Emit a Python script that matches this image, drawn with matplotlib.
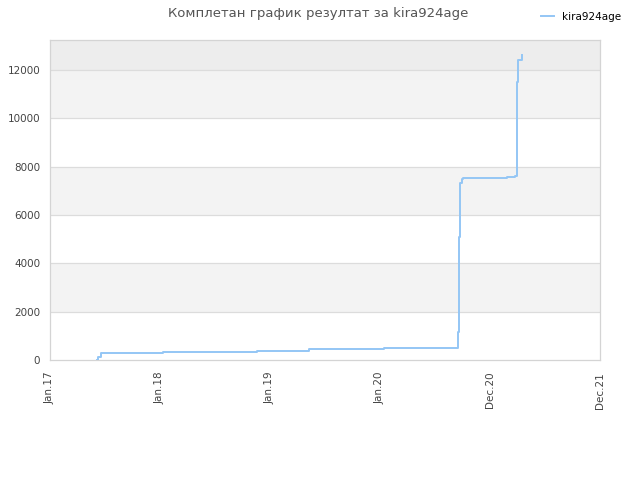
import numpy as np
import pandas as pd
import matplotlib
matplotlib.use("Agg")
import matplotlib.pyplot as plt

# score history
dates = ["2017-06-06", "2017-06-10", "2017-06-18", "2018-01-10", "2018-05-30",
         "2018-11-18", "2019-05-11", "2020-01-16", "2020-09-17", "2020-09-18",
         "2020-09-22", "2020-09-24", "2020-09-29", "2020-10-03", "2020-10-07",
         "2021-02-24", "2021-03-25", "2021-03-29", "2021-04-02", "2021-04-15"]
scores = [0, 120, 280, 340, 350,
          390, 470, 510, 1180, 5100,
          6350, 7340, 7480, 7520, 7520,
          7560, 7620, 11520, 12420, 12620]

tick_dates = ["2017-01-01", "2018-01-01", "2019-01-01", "2020-01-01",
              "2020-12-31", "2021-12-31"]
tick_labels = ["Jan.17", "Jan.18", "Jan.19", "Jan.20", "Dec.20", "Dec.21"]

x = pd.to_datetime(dates)
ticks = pd.to_datetime(tick_dates)

fig = plt.figure(figsize=(6.4, 4.8), dpi=100)
ax = fig.add_axes([0.078, 0.25, 0.8595, 0.6667])

ymax = 13250
# alternating bands
bands = [0, 2000, 4000, 6000, 8000, 10000, 12000, ymax]
for i in range(len(bands) - 1):
    if i == len(bands) - 2:
        c = "#ededed"
    elif i % 2 == 1:
        c = "#f3f3f3"
    else:
        c = "#ffffff"
    ax.axhspan(bands[i], bands[i + 1], color=c, zorder=0, lw=0)
for yv in range(2000, 13000, 2000):
    ax.axhline(yv, color="#dcdcdc", lw=0.9, zorder=1)

ax.plot(x, scores, drawstyle="steps-post", color="#94c6f5", lw=1.4,
        label="kira924age", zorder=3)

ax.set_xlim(ticks[0], ticks[-1])
ax.set_ylim(0, ymax)
ax.set_xticks(ticks)
ax.set_xticklabels(tick_labels, rotation=90, fontsize=7.5, color="#444444")
ax.set_yticks(range(0, 13000, 2000))
ax.set_yticklabels([str(v) for v in range(0, 13000, 2000)], fontsize=7.5,
                   color="#444444")
ax.tick_params(axis="x", length=0, pad=8.5)
ax.tick_params(axis="y", length=0, pad=7)
for s in ax.spines.values():
    s.set_color("#d4d4d4")
    s.set_linewidth(0.9)

fig.suptitle("Комплетан график резултат за kira924age", x=0.497, y=0.985,
             fontsize=9.5, color="#555555")
fig.legend(loc="upper right", bbox_to_anchor=(0.985, 0.995), frameon=False,
           fontsize=7.5, handlelength=1.2)

fig.savefig("out.png", dpi=100)
